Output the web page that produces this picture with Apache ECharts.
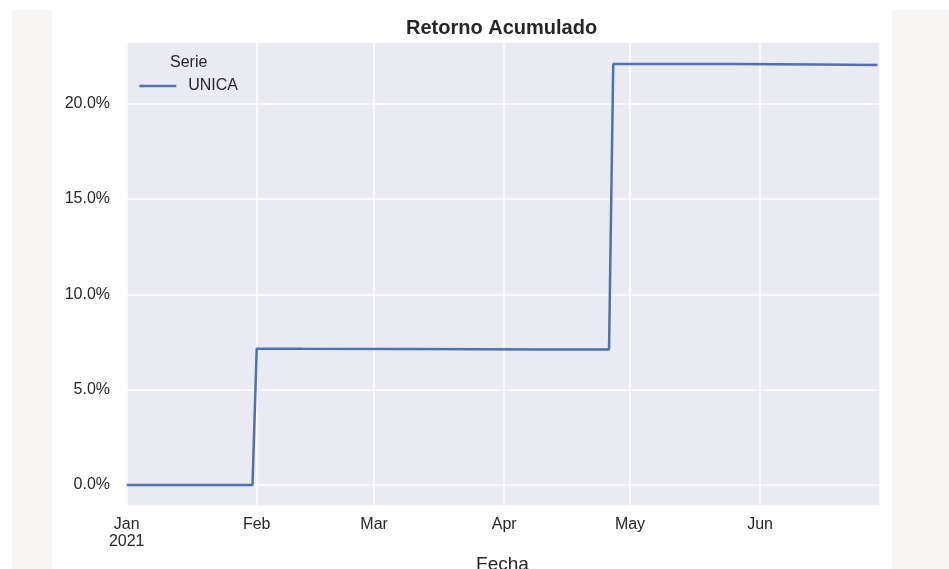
<!DOCTYPE html>
<html>
<head>
<meta charset="utf-8">
<title>Retorno Acumulado</title>
<script src="https://cdn.jsdelivr.net/npm/echarts@6.0.0/dist/echarts.min.js"></script>
<style>
    html, body { margin: 0; padding: 0; background: #ffffff; }
    #chart { width: 949px; height: 569px; }
</style>
</head>
<body>
<div id="chart"></div>
<script>
    // fechas donde cambia la serie (entre ellas la línea es recta)
    const fechas = ['2021-01-01', '2021-01-31', '2021-02-01', '2021-02-12', '2021-03-10',
        '2021-04-10', '2021-04-26', '2021-04-27', '2021-05-25', '2021-06-15', '2021-06-29'];
    // retorno acumulado UNICA, en %
    const unica = [0.0, 0.0, 7.15, 7.14, 7.13, 7.11, 7.10, 22.08, 22.07, 22.05, 22.03];
    const meses = ['Jan', 'Feb', 'Mar', 'Apr', 'May', 'Jun', 'Jul', 'Aug', 'Sep', 'Oct', 'Nov', 'Dec'];

    const FONT = '"Liberation Sans", Arial, sans-serif';
    const TXT = '#262626';

    const chart = echarts.init(document.getElementById('chart'));

    chart.setOption({
        backgroundColor: '#ffffff',
        animation: false,
        textStyle: { fontFamily: FONT },
        graphic: [
            // franjas grises a los lados
            { type: 'rect', left: 12, top: 10, shape: { width: 40, height: 559 }, style: { fill: '#f7f6f5' }, silent: true, z: -10 },
            { type: 'rect', left: 892, top: 10, shape: { width: 57, height: 559 }, style: { fill: '#f7f6f5' }, silent: true, z: -10 },
            { type: 'text', left: 170, top: 55, style: { text: 'Serie', font: '16px ' + FONT, fill: TXT }, z: 10 }
        ],
        title: {
            text: 'Retorno Acumulado',
            left: 406, top: 18, padding: 0,
            textStyle: { fontSize: 20, fontWeight: 'bold', color: TXT, fontFamily: FONT }
        },
        legend: {
            left: 138, top: 78, padding: 0,
            itemWidth: 37, itemHeight: 14,
            itemStyle: { opacity: 0 },
            lineStyle: { width: 2.5 },
            textStyle: { fontSize: 16, color: TXT, fontFamily: FONT, padding: [0, 0, 0, 7] },
            data: ['UNICA']
        },
        grid: {
            left: 125, right: 69, top: 42, bottom: 63,
            outerBoundsMode: 'none',
            show: true, backgroundColor: '#eaeaf2', borderWidth: 0
        },
        xAxis: {
            type: 'time',
            min: '2020-12-31 14:24:00', max: '2021-06-29 14:24:00',
            name: 'Fecha', nameLocation: 'middle', nameGap: 41,
            nameTextStyle: { fontSize: 19, color: TXT, fontFamily: FONT },
            axisLine: { show: false }, axisTick: { show: false },
            splitLine: { show: true, lineStyle: { color: '#ffffff', width: 1.5 } },
            axisLabel: {
                fontSize: 16, color: TXT, margin: 10, lineHeight: 17,
                showMinLabel: false, showMaxLabel: false,
                formatter: function (v) {
                    const d = new Date(v);
                    const m = meses[d.getMonth()];
                    return d.getMonth() === 0 ? m + '\n' + d.getFullYear() : m;
                }
            }
        },
        yAxis: {
            type: 'value',
            min: -1.1, max: 23.23,
            axisLine: { show: false }, axisTick: { show: false },
            splitLine: { show: true, lineStyle: { color: '#ffffff', width: 1.5 } },
            axisLabel: {
                fontSize: 16, color: TXT, margin: 15,
                showMinLabel: false, showMaxLabel: false,
                formatter: function (v) { return v.toFixed(1) + '%'; }
            }
        },
        series: [{
            name: 'UNICA',
            type: 'line',
            symbol: 'none',
            lineStyle: { color: '#4c72b0', width: 2.5 },
            itemStyle: { color: '#4c72b0' },
            data: fechas.map((f, i) => [f, unica[i]])
        }]
    });
</script>
</body>
</html>
